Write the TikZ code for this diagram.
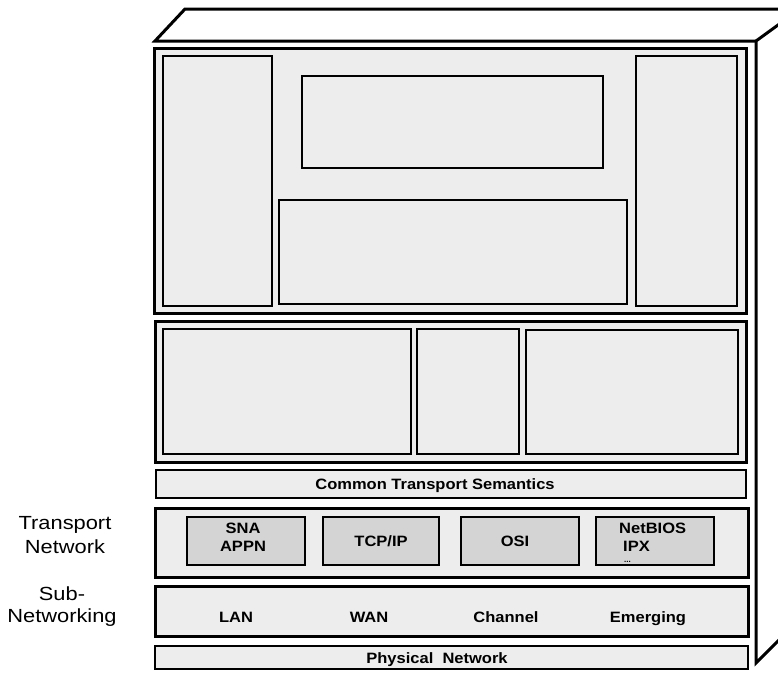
\documentclass[tikz,border=0pt]{standalone}
\usepackage{fontspec}
\setmainfont{Liberation Sans}
\newfontfamily\widesans[FakeStretch=1.1]{Liberation Sans}
\newfontfamily\widersans[FakeStretch=1.15]{Liberation Sans}
\usetikzlibrary{fit}
\begin{document}
\begin{tikzpicture}[x=1pt,y=-1pt,
  panel/.style={draw=black, line width=3pt, fill=gray!14, inner sep=0pt},
  bar/.style={draw=black, line width=2.4pt, fill=gray!14, inner sep=0pt},
  cell/.style={draw=black, line width=1.4pt, fill=gray!14, inner sep=0pt},
  proto/.style={draw=black, line width=1.1pt, fill=gray!34, inner sep=0pt},
  txt/.style={font=\widesans\fontsize{15}{18}\selectfont\bfseries, inner sep=0pt, anchor=base},
  side/.style={font=\widersans\fontsize{19}{21}\selectfont, inner sep=0pt, anchor=base},
  edge/.style={line width=3pt, line join=miter}]
\useasboundingbox (0,0) rectangle (778,673);
\begin{scope}
\clip (0,0) rectangle (778,673);
% cabinet outline: top face and right side
\coordinate (fl) at (155,41);
\coordinate (bl) at (185,9);
\coordinate (br) at (800,9);
\coordinate (fr) at (756,41);
\coordinate (fb) at (756,663);
\coordinate (bb) at (800,619);
\draw[edge] (fr) -- (fl) -- (bl) -- (br);
\draw[edge] (br) -- (fr) -- (fb) -- (bb);
\end{scope}

% upper panel
\node[panel, fit={(154,48) (746,313)}] (upper) {};
\node[cell, fit={(163,56) (272,306)}] (uleft) {};
\node[cell, fit={(302,76) (603,168)}] (utop) {};
\node[cell, fit={(279,200) (627,304)}] (umid) {};
\node[cell, fit={(636,56) (737,306)}] (uright) {};

% middle panel
\node[panel, fit={(155,321) (746,462)}] (middle) {};
\node[cell, fit={(163,329) (411,454)}] (ma) {};
\node[cell, fit={(417,329) (519,454)}] (mb) {};
\node[cell, fit={(526,330) (738,454)}] (mc) {};

% common transport semantics
\node[bar, fit={(156,470) (746,498)}] (cts) {};
\node[txt] at (435,489) {Common Transport Semantics};

% transport network
\node[panel, fit={(155,508) (748,577)}] (transport) {};
\node[proto, fit={(187,517) (305,565)}] (sna) {};
\node[txt] at (243,533) {SNA};
\node[txt] at (243,551) {APPN};
\node[proto, fit={(323,517) (439,565)}] (tcp) {};
\node[txt] at (381,546) {TCP/IP};
\node[proto, fit={(461,517) (579,565)}] (osi) {};
\node[txt] at (515,546) {OSI};
\node[proto, fit={(596,517) (714,565)}] (nb) {};
\node[txt, anchor=base west] at (619,533) {NetBIOS};
\node[txt, anchor=base west] at (623,551) {IPX};
\node[txt, anchor=base west, font=\fontsize{8}{8}\selectfont\bfseries] at (624,562) {...};

% sub-networking
\node[panel, fit={(155,586) (748,636)}] (subnet) {};
\node[txt] at (236,622) {LAN};
\node[txt] at (369,622) {WAN};
\node[txt] at (506,622) {Channel};
\node[txt] at (648,622) {Emerging};

% physical network
\node[bar, fit={(155,646) (748,669)}] (phys) {};
\node[txt] at (437,663) {Physical\ \ Network};

% layer names
\node[side] (tlabel) at (65,529) {Transport};
\node[side] at (65,553) {Network};
\node[side] (slabel) at (62,600) {Sub-};
\node[side] at (62,622) {Networking};
\end{tikzpicture}
\end{document}
